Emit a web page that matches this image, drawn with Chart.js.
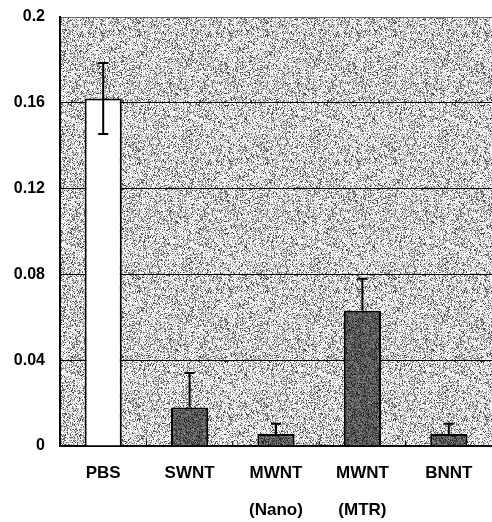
<!DOCTYPE html>
<html>
<head>
<meta charset="utf-8">
<script src="https://cdn.jsdelivr.net/npm/chart.js@4"></script>
<style>
  html, body { margin: 0; padding: 0; background: #fff; }
  #wrap { width: 492px; height: 522px; }
</style>
</head>
<body>
<div id="wrap"><canvas id="chart"></canvas></div>
<script>
const categories = ['PBS', 'SWNT', ['MWNT', '(Nano)'], ['MWNT', '(MTR)'], 'BNNT'];
const values = [0.162, 0.018, 0.0056, 0.063, 0.0056];
const errors = [0.0165, 0.016, 0.0048, 0.015, 0.0048];
const yTicks = [0, 0.04, 0.08, 0.12, 0.16, 0.2];

// speckled texture like the scanned figure (fixed seed, styling only)
function speckle(base, dots, density, seed) {
    const size = 128;
    const c = document.createElement('canvas');
    c.width = size; c.height = size;
    const g = c.getContext('2d');
    g.fillStyle = base;
    g.fillRect(0, 0, size, size);
    let a = seed;
    function rnd() {
        a |= 0; a = a + 0x6D2B79F5 | 0;
        let t = Math.imul(a ^ a >>> 15, 1 | a);
        t = t + Math.imul(t ^ t >>> 7, 61 | t) ^ t;
        return ((t ^ t >>> 14) >>> 0) / 4294967296;
    }
    for (let y = 0; y < size; y++) {
        for (let x = 0; x < size; x++) {
            if (rnd() < density) {
                g.fillStyle = dots[Math.floor(rnd() * dots.length)];
                g.fillRect(x, y, 1, 1);
            }
        }
    }
    return g.createPattern(c, 'repeat');
}

const ctx = document.getElementById('chart').getContext('2d');
const bgPattern = speckle('#f4f4f4', ['#aaa', '#888', '#666', '#bbb', '#444', '#999'], 0.42, 7);
const darkPattern = speckle('#555', ['#333', '#777', '#222', '#666', '#888'], 0.6, 11);
const barFills = values.map((v, i) => i === 0 ? '#ffffff' : darkPattern);

const plotBackground = {
    id: 'plotBackground',
    beforeDraw(chart) {
        const a = chart.chartArea;
        const c = chart.ctx;
        c.save();
        c.fillStyle = bgPattern;
        c.fillRect(a.left, a.top, a.right - a.left, a.bottom - a.top);
        c.restore();
    }
};

const errorBars = {
    id: 'errorBars',
    afterDatasetsDraw(chart) {
        const c = chart.ctx;
        const y = chart.scales.y;
        const x = chart.scales.x;
        const meta = chart.getDatasetMeta(0);
        c.save();
        // small inward ticks between categories
        c.strokeStyle = '#000';
        c.lineWidth = 1;
        for (let i = 1; i < categories.length; i++) {
            const px = (x.getPixelForValue(i - 1) + x.getPixelForValue(i)) / 2;
            c.beginPath();
            c.moveTo(px, y.bottom);
            c.lineTo(px, y.bottom - 5);
            c.stroke();
        }
        c.lineWidth = 2;
        meta.data.forEach((bar, i) => {
            const top = y.getPixelForValue(values[i] + errors[i]);
            const bot = i === 0 ? y.getPixelForValue(values[i] - errors[i]) : bar.y;
            const cap = 5;
            c.beginPath();
            c.moveTo(bar.x, top);
            c.lineTo(bar.x, bot);
            c.moveTo(bar.x - cap, top);
            c.lineTo(bar.x + cap, top);
            if (i === 0) {
                c.moveTo(bar.x - cap, bot);
                c.lineTo(bar.x + cap, bot);
            }
            c.stroke();
        });
        c.restore();
    }
};

new Chart(ctx, {
    type: 'bar',
    data: {
        labels: categories,
        datasets: [{
            data: values,
            backgroundColor: barFills,
            borderColor: '#000',
            borderWidth: 2,
            barPercentage: 0.43,
            categoryPercentage: 1
        }]
    },
    options: {
        responsive: true,
        maintainAspectRatio: false,
        animation: false,
        layout: { padding: { top: 17, right: 0, left: 0, bottom: 0 } },
        plugins: {
            legend: { display: false },
            tooltip: { enabled: false }
        },
        scales: {
            x: {
                grid: { display: false },
                border: { color: '#000', width: 2 },
                ticks: {
                    color: '#000',
                    padding: 1,
                    font: { family: 'Liberation Sans', size: 17, weight: 'bold', lineHeight: 2.15 },
                    maxRotation: 0
                },
                afterFit(scale) { scale.height = 76; }
            },
            y: {
                min: 0,
                max: 0.2,
                afterBuildTicks(scale) {
                    scale.ticks = yTicks.map(v => ({ value: v }));
                },
                grid: {
                    color: ctx => ctx.tick && ctx.tick.value === 0.2 ? '#666' : '#000',
                    lineWidth: 1,
                    drawTicks: false
                },
                border: { color: '#000', width: 2 },
                ticks: {
                    color: '#000',
                    padding: 15,
                    font: { family: 'Liberation Sans', size: 16, weight: 'bold' },
                    callback: v => String(+Number(v).toFixed(2))
                },
                afterFit(scale) {
                    scale.width = 60;
                    scale.paddingTop = 0;
                    scale.paddingBottom = 0;
                }
            }
        }
    },
    plugins: [plotBackground, errorBars]
});
</script>
</body>
</html>
